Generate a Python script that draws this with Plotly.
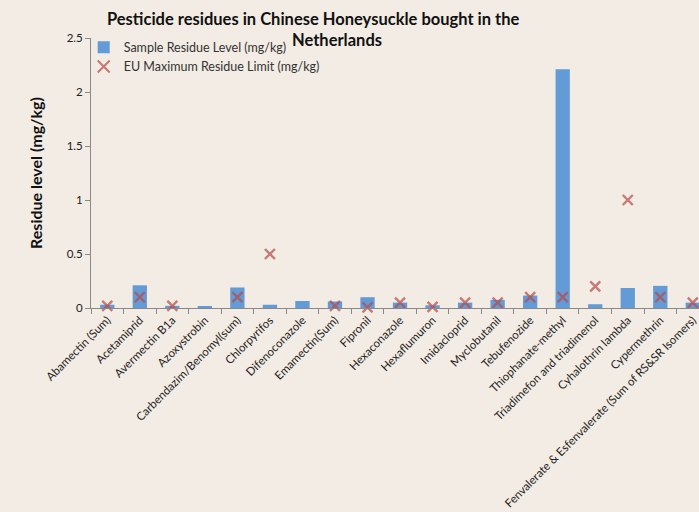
import plotly.graph_objects as go

categories = [
    "Abamectin (Sum)", "Acetamiprid", "Avermectin B1a", "Azoxystrobin",
    "Carbendazim/Benomyl(sum)", "Chlorpyrifos", "Difenoconazole", "Emamectin(Sum)",
    "Fipronil", "Hexaconazole", "Hexaflumuron", "Imidacloprid", "Myclobutanil",
    "Tebufenozide", "Thiophanate-methyl", "Triadimefon and triadimenol",
    "Cyhalothrin lambda", "Cypermethrin",
    "Fenvalerate & Esfenvalerate (Sum of RS&SR Isomers)",
]
sample_levels = [0.03, 0.21, 0.02, 0.015, 0.19, 0.03, 0.065, 0.06, 0.10, 0.05,
                 0.025, 0.05, 0.075, 0.115, 2.21, 0.035, 0.185, 0.205, 0.05]
eu_mrl = [0.02, 0.1, 0.02, None, 0.1, 0.5, None, 0.02, 0.005, 0.05,
          0.01, 0.05, 0.05, 0.1, 0.1, 0.2, 1.0, 0.1, 0.05]
y_ticks = [0, 0.5, 1, 1.5, 2, 2.5]
y_tick_labels = ["0", "0.5", "1", "1.5", "2", "2.5"]
title_line1 = "Pesticide residues in Chinese Honeysuckle bought in the"
title_line2 = "Netherlands"

FONT = "Lato"

fig = go.Figure()
fig.add_trace(go.Bar(
    x=categories, y=sample_levels, name="Sample Residue Level (mg/kg)",
    marker=dict(color="#639bd6", line=dict(width=0)),
))
fig.add_trace(go.Scatter(
    x=categories, y=eu_mrl, name="EU Maximum Residue Limit (mg/kg)",
    mode="markers", cliponaxis=False,
    marker=dict(symbol="x-thin", size=10, color="rgba(185,75,72,0.72)",
                line=dict(width=2.4, color="rgba(185,75,72,0.72)")),
))

fig.update_layout(
    width=699, height=512,
    paper_bgcolor="#f2ece4", plot_bgcolor="rgba(0,0,0,0)",
    margin=dict(l=91, r=0, t=38, b=204),
    bargap=0.56,
    font=dict(family=FONT, color="#222222"),
    title=dict(
        text="<b>" + title_line1 + "</b>",
        x=0.448, xanchor="center", yref="container", y=0.963, yanchor="middle",
        font=dict(family=FONT, size=16.5, color="#111111"),
    ),
    annotations=[dict(
        text="<b>" + title_line2 + "</b>", xref="paper", yref="paper",
        x=0.405, y=0.9926, xanchor="center", yanchor="middle", showarrow=False,
        font=dict(family=FONT, size=16.5, color="#111111"),
    )],
    legend=dict(
        x=-0.012, y=1.02, xanchor="left", yanchor="top",
        bgcolor="rgba(0,0,0,0)", font=dict(size=12.5, color="#333333"),
        itemsizing="constant", tracegroupgap=0,
    ),
    showlegend=True,
)
fig.update_xaxes(
    range=[-0.5, 18.19], tickangle=-45, tickson="boundaries",
    ticks="outside", ticklen=5, tickcolor="#888888",
    showline=True, linecolor="#888888", linewidth=1,
    showgrid=False, tickfont=dict(size=11.5, color="#222222"),
)
fig.update_yaxes(
    range=[0, 2.5], tickvals=y_ticks, ticktext=y_tick_labels,
    ticks="outside", ticklen=5, tickcolor="#888888",
    showline=True, linecolor="#888888", linewidth=1,
    showgrid=False, zeroline=False, tickfont=dict(size=11.5, color="#222222"),
    title=dict(text="<b>Residue level (mg/kg)</b>", font=dict(size=16, color="#111111"),
               standoff=20),
)

fig.write_html("out.html")
